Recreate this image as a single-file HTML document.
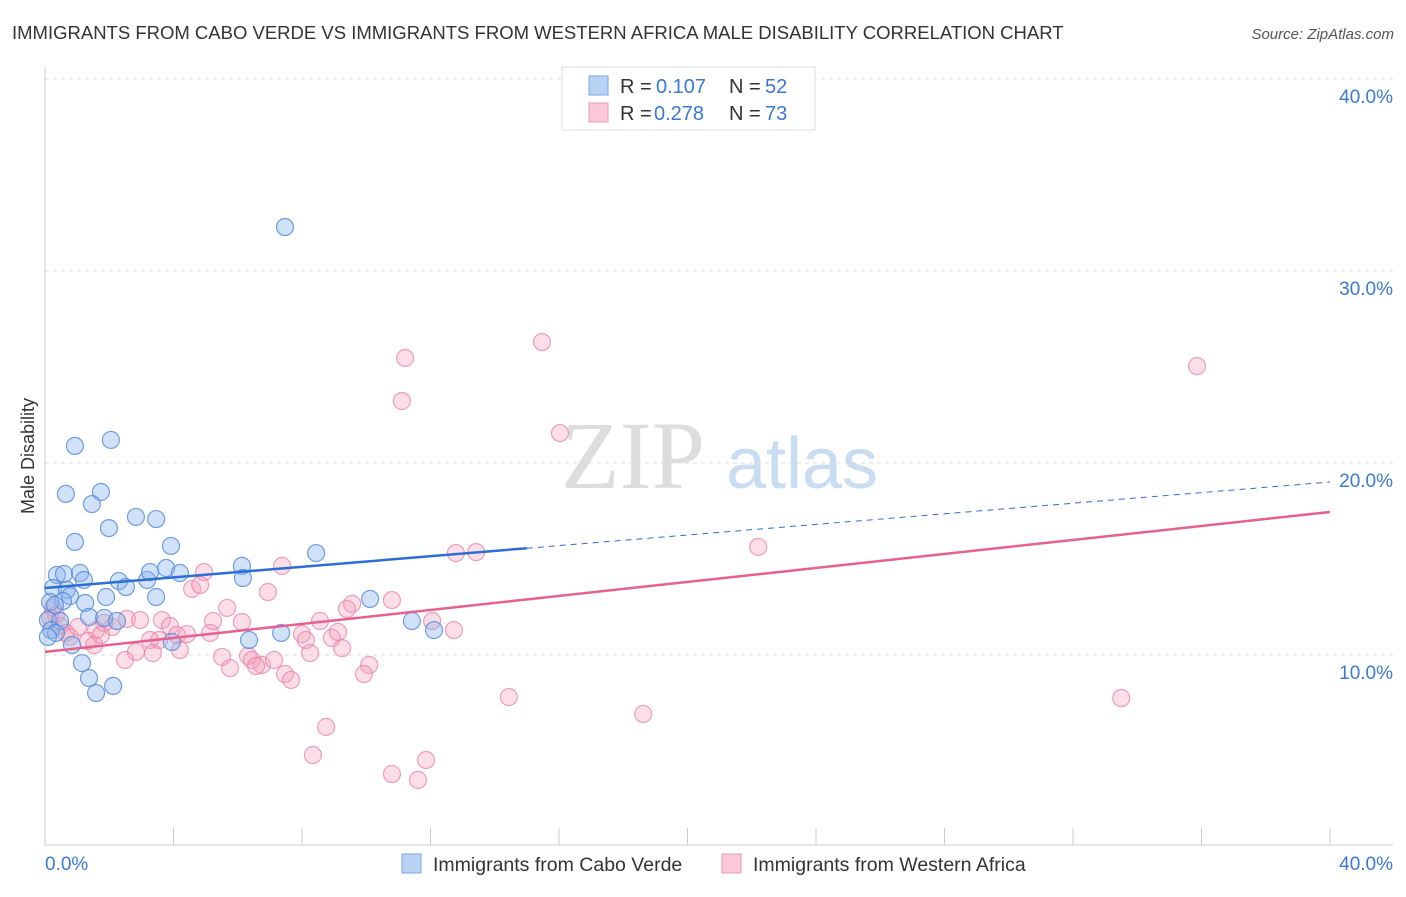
<!DOCTYPE html>
<html><head><meta charset="utf-8"><style>
body{margin:0;background:#fff;font-family:"Liberation Sans",sans-serif}
</style></head><body>
<svg id="c" width="1406" height="892" xmlns="http://www.w3.org/2000/svg">
<text x="12" y="39" font-size="18.5" fill="#333">IMMIGRANTS FROM CABO VERDE VS IMMIGRANTS FROM WESTERN AFRICA MALE DISABILITY CORRELATION CHART</text>
<text x="1394" y="39" font-size="15" fill="#555" font-style="italic" text-anchor="end">Source: ZipAtlas.com</text>
<text x="633" y="488" font-size="96" fill="#ddd" font-family="Liberation Serif,serif" text-anchor="middle">ZIP</text>
<text x="802" y="488" font-size="72" fill="#c8dcf2" text-anchor="middle">atlas</text>
<text transform="translate(34,456) rotate(-90)" font-size="18" fill="#333" text-anchor="middle">Male Disability</text>
<g id="grid"></g><g id="pts"></g><g id="trend"></g>
<g>
<rect x="562" y="67" width="253" height="63" fill="#fff" stroke="#ddd"/>
<rect x="589" y="76" width="19" height="19" fill="#b9d3f4" stroke="#7aa6e4"/>
<rect x="589" y="103" width="19" height="19" fill="#f9c9d7" stroke="#ec9cb6"/>
<text x="620" y="93" font-size="20" fill="#333">R =</text>
<text x="656" y="93" font-size="20" fill="#3a78d8">0.107</text>
<text x="729" y="93" font-size="20" fill="#333">N =</text>
<text x="765" y="93" font-size="20" fill="#3a78d8">52</text>
<text x="620" y="120" font-size="20" fill="#333">R =</text>
<text x="654" y="120" font-size="20" fill="#3a78d8">0.278</text>
<text x="729" y="120" font-size="20" fill="#333">N =</text>
<text x="765" y="120" font-size="20" fill="#3a78d8">73</text>
</g>
<g>
<rect x="402" y="854" width="19" height="19" fill="#b9d3f4" stroke="#7aa6e4"/>
<text x="433" y="871" font-size="19.5" fill="#333">Immigrants from Cabo Verde</text>
<rect x="722" y="854" width="19" height="19" fill="#f9c9d7" stroke="#ec9cb6"/>
<text x="753" y="871" font-size="19.5" fill="#333">Immigrants from Western Africa</text>
</g>
</svg>
<script>
const blueX=[7.47,0.93,2.05,0.65,1.74,1.46,1.99,2.83,3.46,0.93,3.92,6.13,8.44,0.37,0.59,1.09,1.21,0.25,2.30,2.52,3.18,3.27,3.77,4.20,6.16,0.68,0.78,0.56,1.25,1.90,3.46,0.16,0.31,0.09,0.47,1.37,1.84,2.24,10.12,11.42,12.11,7.35,6.35,3.95,0.19,0.34,0.09,0.84,1.15,1.37,1.59,2.12];
const blueY=[32.29,20.89,21.20,18.39,18.49,17.86,16.61,17.19,17.08,15.89,15.68,14.64,15.31,14.17,14.22,14.27,13.91,13.49,13.85,13.54,13.91,14.32,14.53,14.27,14.01,13.39,13.07,12.81,12.71,13.02,13.02,12.76,12.60,11.82,11.77,11.98,11.93,11.77,12.92,11.77,11.30,11.15,10.78,10.68,11.30,11.15,10.94,10.52,9.58,8.80,8.02,8.39];
const pinkX=[15.47,11.21,35.86,11.11,16.03,22.20,12.79,13.42,7.38,4.95,4.58,4.83,6.94,10.80,9.56,9.40,5.67,5.23,8.56,12.05,12.73,3.64,2.55,2.96,2.09,1.84,1.59,3.89,4.11,3.27,3.55,4.42,5.14,6.13,8.00,8.12,8.93,9.12,9.25,8.25,4.20,3.36,2.83,2.49,5.51,6.32,6.44,6.75,7.13,5.76,6.57,7.47,7.66,10.09,9.93,14.44,18.62,33.50,8.75,8.34,10.80,11.61,11.86,0.25,0.34,0.47,0.65,0.78,1.03,1.34,1.53,1.74,0.16];
const pinkY=[26.30,25.47,25.05,23.23,21.56,15.63,15.31,15.36,14.64,14.32,13.44,13.65,13.28,12.86,12.66,12.40,12.45,11.77,11.77,11.77,11.30,11.82,11.88,11.82,11.46,11.67,11.30,11.51,11.04,10.78,10.78,11.09,11.15,11.72,11.09,10.78,10.89,11.20,10.36,10.10,10.26,10.10,10.16,9.74,9.90,9.95,9.74,9.48,9.74,9.32,9.43,9.01,8.70,9.48,9.01,7.81,6.93,7.76,6.25,4.79,3.80,3.49,4.53,12.45,12.08,11.51,11.15,10.94,11.46,10.73,10.52,11.04,11.93];
const yTicks=[10,20,30,40];
const xTicks=[0,4,8,12,16,20,24,28,32,36,40];
const blueTrend=[13.49,19.01], pinkTrend=[10.16,17.45], blueSolidEnd=15.0;
const NS="http://www.w3.org/2000/svg";
const sx=v=>45+v*(1285/40), sy=v=>847-v*19.2;
function mk(t,a,p){const e=document.createElementNS(NS,t);for(const k in a)e.setAttribute(k,a[k]);p.appendChild(e);return e;}
const grid=document.getElementById('grid');
yTicks.forEach(t=>{
 const l=mk('line',{x1:45,x2:1393,y1:sy(t),y2:sy(t),stroke:'#ddd','stroke-dasharray':'4,4'},grid);
 
 
 const tx=mk('text',{x:1393,y:sy(t)+24,'font-size':19,fill:'#3a78d8','text-anchor':'end'},grid);
 tx.textContent=t.toFixed(1)+'%';
 
 
});
mk('line',{x1:45,x2:45,y1:67,y2:845,stroke:'#ccc'},grid);
mk('line',{x1:45,x2:1393,y1:845,y2:845,stroke:'#ccc'},grid);
xTicks.forEach(t=>{
 const l=mk('line',{x1:sx(t),x2:sx(t),y1:828,y2:845,stroke:'#ccc'},grid);
 
 
});
[[0,'start',45],[40,'end',1393]].forEach(([t,a,x])=>{
 const tx=mk('text',{x:x,y:870,'font-size':19,fill:'#3a78d8','text-anchor':a},grid);
 tx.textContent=t.toFixed(1)+'%';
 
 
});
const pts=document.getElementById('pts');
pinkX.forEach((x,i)=>{
 const c=mk('circle',{cx:sx(x),cy:sy(pinkY[i]),r:8.5,fill:'rgba(244,160,186,0.35)',stroke:'rgba(232,130,165,0.75)','stroke-width':1.2},pts);
 
 
});
blueX.forEach((x,i)=>{
 const c=mk('circle',{cx:sx(x),cy:sy(blueY[i]),r:8.5,fill:'rgba(140,180,235,0.4)',stroke:'rgba(80,135,220,0.8)','stroke-width':1.2},pts);
 
 
});
const tr=document.getElementById('trend');
const by=x=>blueTrend[0]+(blueTrend[1]-blueTrend[0])*x/40;
let l=mk('line',{x1:sx(0),y1:sy(by(0)),x2:sx(blueSolidEnd),y2:sy(by(blueSolidEnd)),stroke:'#2a6fd6','stroke-width':2.5},tr);


l=mk('line',{x1:sx(blueSolidEnd),y1:sy(by(blueSolidEnd)),x2:sx(40),y2:sy(by(40)),stroke:'#2a6fd6','stroke-width':1,'stroke-dasharray':'6,5'},tr);


l=mk('line',{x1:sx(0),y1:sy(pinkTrend[0]),x2:sx(40),y2:sy(pinkTrend[1]),stroke:'#e8608e','stroke-width':2.5},tr);


</script>
</body></html>
